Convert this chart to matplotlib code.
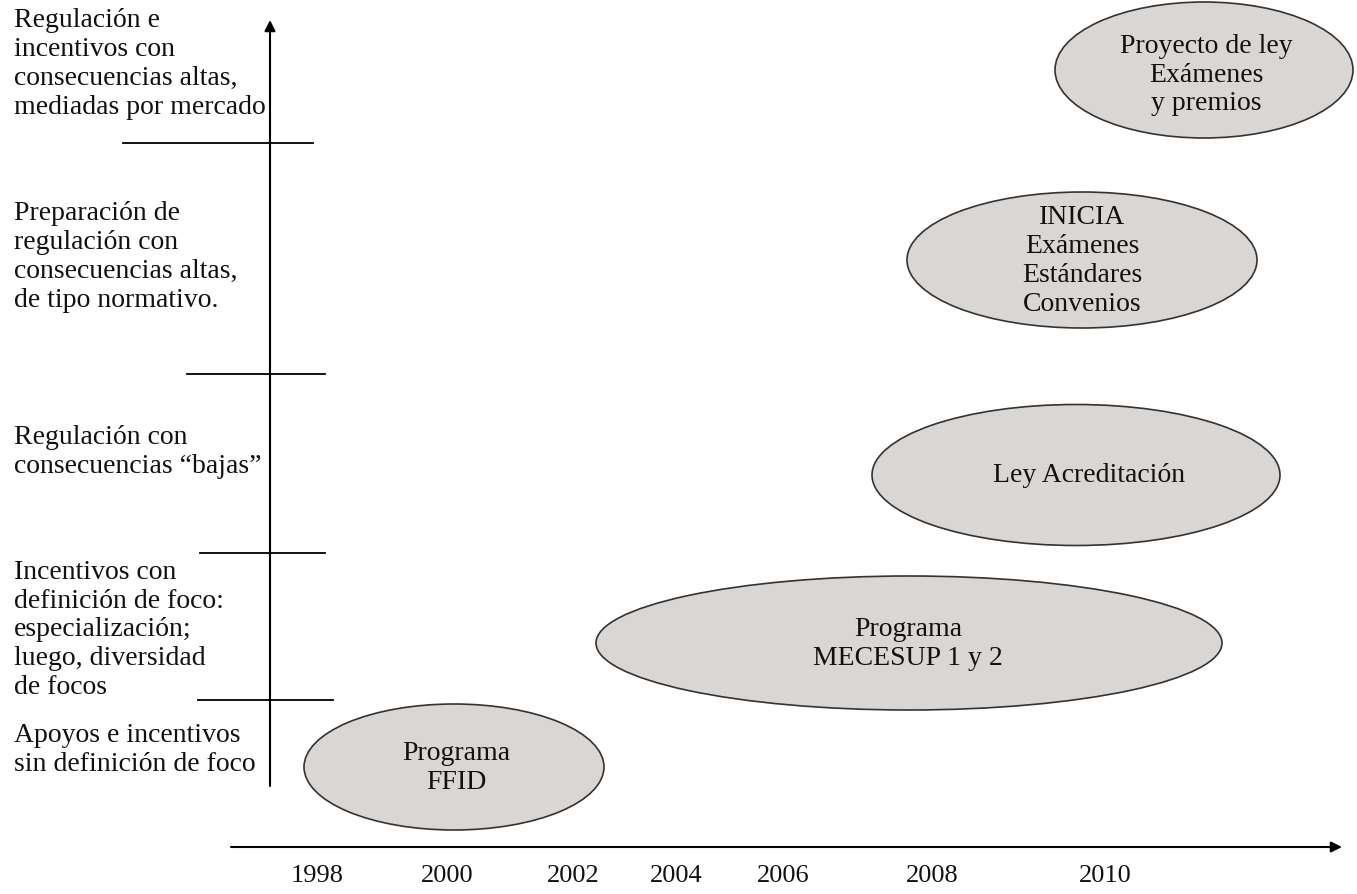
import matplotlib
matplotlib.use("Agg")
import matplotlib.pyplot as plt
from matplotlib.patches import Ellipse

plt.rcParams["font.family"] = ["Liberation Serif", "DejaVu Serif"]

YEARS = ["1998", "2000", "2002", "2004", "2006", "2008", "2010"]
YEAR_X = [317, 447, 573, 676, 783, 932, 1105]

LEVEL_LABELS = [
    "Regulación e\nincentivos con\nconsecuencias altas,\nmediadas por mercado",
    "Preparación de\nregulación con\nconsecuencias altas,\nde tipo normativo.",
    "Regulación con\nconsecuencias “bajas”",
    "Incentivos con\ndefinición de foco:\nespecialización;\nluego, diversidad\nde focos",
    "Apoyos e incentivos\nsin definición de foco",
]
LEVEL_LABEL_Y = [64, 257, 452, 630, 750]
# separators between levels: y and x extent
SEP_Y = [143, 374, 553, 700]
SEP_X0 = [123, 187, 200, 198]
SEP_X1 = [313, 325, 325, 333]

PROGRAMS = [
    "Programa\nFFID",
    "Programa\nMECESUP 1 y 2",
    "Ley Acreditación",
    "INICIA\nExámenes\nEstándares\nConvenios",
    "Proyecto de ley\nExámenes\ny premios",
]
PROG_CX = [454, 909, 1076, 1082, 1204]
PROG_CY = [767, 643, 475, 260, 70]
PROG_W = [300, 626, 408, 350, 298]
PROG_H = [126, 134, 141, 136, 136]
PROG_TEXT_X = [456, 908, 1089, 1082, 1206]
PROG_TEXT_Y = [768, 644, 475, 261, 75]


def main() -> None:
    fig = plt.figure(figsize=(13.57, 8.94), dpi=100)
    ax = fig.add_axes([0, 0, 1, 1])
    ax.set_xlim(0, 1357)
    ax.set_ylim(894, 0)
    ax.axis("off")

    # axes with arrows
    ax.annotate("", xy=(270, 20), xytext=(270, 786),
                arrowprops=dict(arrowstyle="-|>", color="black", lw=1.5,
                                mutation_scale=16, shrinkA=0, shrinkB=0))
    ax.annotate("", xy=(1342, 847), xytext=(231, 847),
                arrowprops=dict(arrowstyle="-|>", color="black", lw=1.5,
                                mutation_scale=16, shrinkA=0, shrinkB=0))

    for y, x0, x1 in zip(SEP_Y, SEP_X0, SEP_X1):
        ax.plot([x0, x1], [y, y], color="black", lw=1.3)

    for label, y in zip(LEVEL_LABELS, LEVEL_LABEL_Y):
        ax.text(14, y, label, ha="left", va="center", fontsize=20,
                linespacing=1.2, color="#111111")

    for year, x in zip(YEARS, YEAR_X):
        ax.text(x, 876, year, ha="center", va="center", fontsize=19,
                color="#111111")

    for label, cx, cy, w, h, tx, ty in zip(PROGRAMS, PROG_CX, PROG_CY, PROG_W,
                                          PROG_H, PROG_TEXT_X, PROG_TEXT_Y):
        ax.add_patch(Ellipse((cx, cy), w, h, facecolor="#d9d6d3",
                             edgecolor="#333333", lw=1.2))
        ax.text(tx, ty, label, ha="center", va="center", fontsize=20,
                linespacing=1.2, color="#111111")

    fig.savefig("out.png", dpi=100)
    plt.close(fig)


if __name__ == "__main__":
    main()
